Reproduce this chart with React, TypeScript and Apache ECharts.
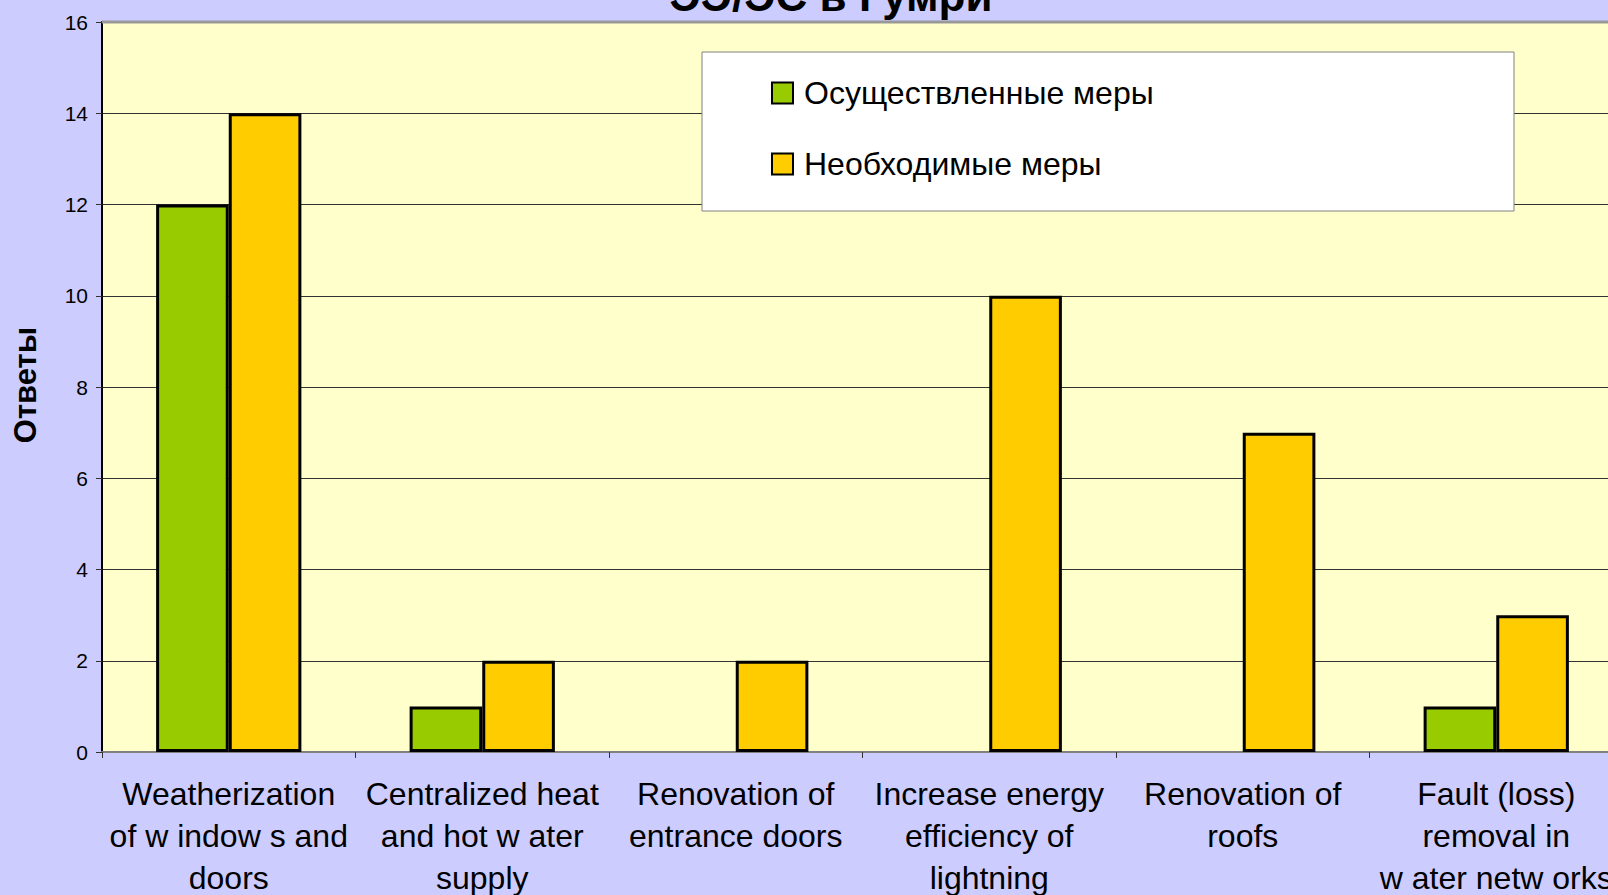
import React, { useEffect, useRef } from "react";
import * as echarts from "echarts";

const titleText = "ЭЭ/ЭС в Гумри";
const yAxisName = "Ответы";
const seriesNames = ["Осуществленные меры", "Необходимые меры"];
const categories = [
  "Weatherization\nof w indow s and\ndoors",
  "Centralized heat\nand hot w ater\nsupply",
  "Renovation of\nentrance doors",
  "Increase energy\nefficiency of\nlightning",
  "Renovation of\nroofs",
  "Fault (loss)\nremoval in\nw ater netw orks",
];
const implemented = [12, 1, 0, 0, 0, 1];
const needed = [14, 2, 2, 10, 7, 3];
const yTicks = { min: 0, max: 16, interval: 2 };

const FONT = "'Liberation Sans', Arial, sans-serif";

export default function App() {
  const ref = useRef<HTMLDivElement>(null);
  useEffect(() => {
    document.body.style.margin = "0";
    const chart = echarts.init(ref.current!, null, { renderer: "svg" });
    const toData = (arr: number[]) => arr.map((v) => (v === 0 ? "-" : v));
    chart.setOption({
      animation: false,
      backgroundColor: "#CCCCFF",
      textStyle: { fontFamily: FONT },
      grid: {
        left: 102,
        top: 22,
        width: 1521,
        height: 730,
        show: true,
        backgroundColor: "#FFFFCC",
        borderWidth: 0,
        containLabel: false,
        outerBoundsMode: "none",
      },
      legend: {
        orient: "vertical",
        left: 766,
        top: 72,
        itemWidth: 21,
        itemHeight: 21,
        itemGap: 39,
        icon: "rect",
        z: 10,
        itemStyle: { borderColor: "#000", borderWidth: 2 },
        textStyle: {
          fontSize: 32,
          color: "#000",
          fontFamily: FONT,
          lineHeight: 22,
          padding: [0, 0, 0, 6],
        },
        data: seriesNames,
      },
      graphic: [
        {
          type: "rect",
          z: 5,
          shape: { x: 702, y: 52, width: 812, height: 159 },
          style: { fill: "#FFFFFF", stroke: "#808080", lineWidth: 1 },
        },
        {
          type: "line",
          z: 5,
          shape: { x1: 102, y1: 22, x2: 1608, y2: 22 },
          style: { stroke: "#999999", lineWidth: 3 },
        },
        {
          type: "text",
          z: 6,
          x: 831,
          y: -5,
          style: {
            text: titleText,
            fontSize: 44,
            fontWeight: "bold",
            fontFamily: FONT,
            fill: "#000",
            align: "center",
            verticalAlign: "middle",
          },
        },
        {
          type: "text",
          z: 6,
          x: 25,
          y: 385,
          rotation: Math.PI / 2,
          style: {
            text: yAxisName,
            fontSize: 31,
            fontWeight: "bold",
            fontFamily: FONT,
            fill: "#000",
            align: "center",
            verticalAlign: "middle",
          },
        },
      ],
      xAxis: {
        type: "category",
        data: categories,
        axisLine: { show: true, lineStyle: { color: "#808080", width: 2 } },
        axisTick: { show: true, length: 6, lineStyle: { color: "#333", width: 1 } },
        axisLabel: {
          interval: 0,
          margin: 21,
          fontSize: 32,
          lineHeight: 42,
          color: "#000",
          fontFamily: FONT,
        },
        splitLine: { show: false },
      },
      yAxis: {
        type: "value",
        min: yTicks.min,
        max: yTicks.max,
        interval: yTicks.interval,
        axisLine: { show: true, lineStyle: { color: "#000", width: 2 } },
        axisTick: { show: true, length: 6, lineStyle: { color: "#333", width: 1 } },
        axisLabel: { fontSize: 21, color: "#000", margin: 14, fontFamily: FONT },
        splitLine: { show: true, lineStyle: { color: "#333", width: 1 } },
      },
      series: [
        {
          name: seriesNames[0],
          type: "bar",
          data: toData(implemented),
          barGap: "0%",
          barCategoryGap: "42.7%",
          itemStyle: { color: "#99CC00", borderColor: "#000", borderWidth: 3 },
        },
        {
          name: seriesNames[1],
          type: "bar",
          data: toData(needed),
          barGap: "0%",
          barCategoryGap: "42.7%",
          itemStyle: { color: "#FFCC00", borderColor: "#000", borderWidth: 3 },
        },
      ],
    });
    return () => chart.dispose();
  }, []);
  return (
    <div
      ref={ref}
      style={{ position: "absolute", left: 0, top: 0, width: 1608, height: 895 }}
    />
  );
}
